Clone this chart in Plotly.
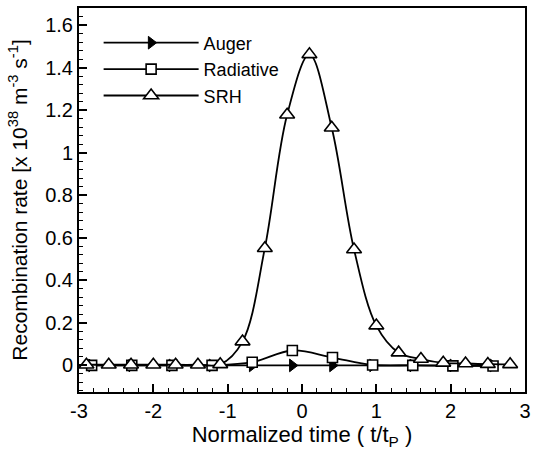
import plotly.graph_objects as go

# ---- data ----
auger_x = [-2.83, -2.29, -1.75, -1.21, -0.67, -0.13, 0.41, 0.95, 1.49, 2.03, 2.57]
auger_y = [0.0, 0.0, 0.0, 0.0, 0.0, 0.0, 0.0, 0.0, 0.0, 0.0, 0.0]

rad_x = [-2.83, -2.29, -1.75, -1.21, -0.67, -0.13, 0.41, 0.95, 1.49, 2.03, 2.57]
rad_y = [0.0, 0.0, 0.0, 0.0, 0.015, 0.07, 0.037, 0.002, 0.0, -0.002, -0.003]

srh_x = [-2.9, -2.6, -2.3, -2.0, -1.7, -1.4, -1.1, -0.8, -0.5, -0.2, 0.1, 0.4,
         0.7, 1.0, 1.3, 1.6, 1.9, 2.2, 2.5, 2.8]
srh_y = [0.003, 0.003, 0.003, 0.003, 0.003, 0.003, 0.005, 0.112, 0.551, 1.178,
         1.462, 1.117, 0.545, 0.187, 0.06, 0.03, 0.012, 0.009, 0.006, 0.005]

x_ticks = [-3, -2, -1, 0, 1, 2, 3]
x_tick_text = ["-3", "-2", "-1", "0", "1", "2", "3"]
y_ticks = [0, 0.2, 0.4, 0.6, 0.8, 1.0, 1.2, 1.4, 1.6]
y_tick_text = ["0", "0.2", "0.4", "0.6", "0.8", "1", "1.2", "1.4", "1.6"]

FONT = "Liberation Sans, Arial, sans-serif"
line_style = dict(color="black", width=1.8, shape="spline", smoothing=1.0)

fig = go.Figure()
fig.add_trace(go.Scatter(
    x=auger_x, y=auger_y, name="Auger", mode="lines+markers",
    line=line_style,
    marker=dict(symbol="triangle-right", size=11, color="black",
                line=dict(color="black", width=1)),
))
fig.add_trace(go.Scatter(
    x=rad_x, y=rad_y, name="Radiative", mode="lines+markers",
    line=line_style,
    marker=dict(symbol="square", size=10, color="white",
                line=dict(color="black", width=1.6)),
))
fig.add_trace(go.Scatter(
    x=srh_x, y=srh_y, name="SRH", mode="lines+markers",
    line=line_style,
    marker=dict(symbol="triangle-up", size=13, color="white",
                line=dict(color="black", width=1.6)),
))

axis_common = dict(
    showline=True, linecolor="black", linewidth=2, mirror=True,
    ticks="inside", ticklen=8, tickwidth=1.5, tickcolor="black",
    showgrid=False, zeroline=False,
    tickfont=dict(family=FONT, size=20, color="black"),
)

fig.update_xaxes(
    range=[-3, 3], tickmode="array", tickvals=x_ticks, ticktext=x_tick_text,
    minor=dict(ticks="inside", ticklen=4, tickwidth=1, tickcolor="black", dtick=0.2),
    title=dict(text="Normalized time ( t/t<sub>P</sub> )",
               font=dict(family=FONT, size=22, color="black"), standoff=5),
    **axis_common,
)
fig.update_yaxes(
    range=[-0.125, 1.68], tickmode="array", tickvals=y_ticks, ticktext=y_tick_text,
    minor=dict(ticks="inside", ticklen=4, tickwidth=1, tickcolor="black", dtick=0.04),
    title=dict(text="Recombination rate [x 10<sup>38</sup> m<sup>-3</sup> s<sup>-1</sup>]",
               font=dict(family=FONT, size=21, color="black"), standoff=12),
    **axis_common,
)

fig.update_layout(
    width=536, height=452,
    margin=dict(l=79, r=5, t=8, b=60),
    paper_bgcolor="white", plot_bgcolor="white",
    font=dict(family=FONT, color="black"),
    legend=dict(x=0.044, y=0.957, xanchor="left", yanchor="top",
                bgcolor="rgba(0,0,0,0)", font=dict(family=FONT, size=18, color="black"),
                itemwidth=95, tracegroupgap=0),
    showlegend=True,
)

fig.write_html("out.html")
